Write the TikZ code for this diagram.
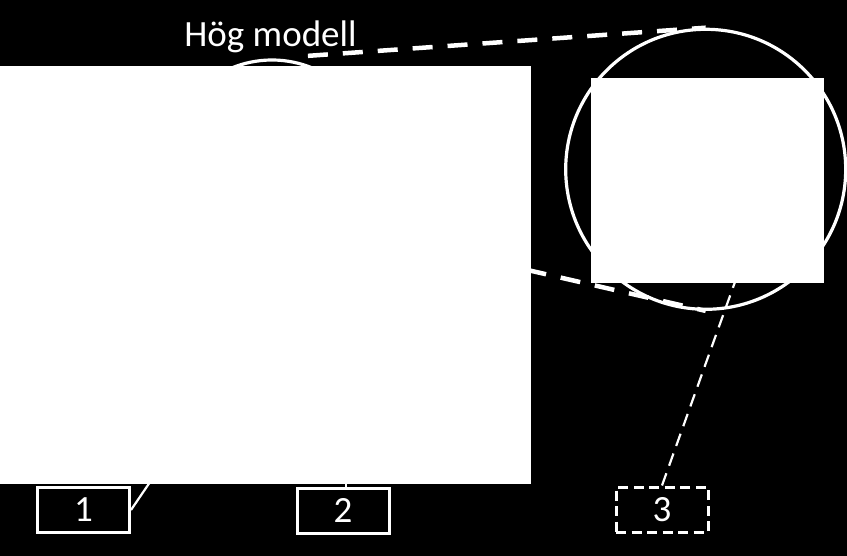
\documentclass[tikz,border=0pt]{standalone}
\usepackage{fontspec}
\setmainfont{Carlito}
\usetikzlibrary{calc}
\begin{document}
\begin{tikzpicture}[x=1pt,y=-1pt,
  ring/.style={circle,draw=white,line width=3.2pt,inner sep=0pt},
  zoomline/.style={draw=white,line width=4.5pt,dash pattern=on 20pt off 15pt},
  pointer/.style={draw=white,line width=2.2pt},
  photo/.style={fill=white,inner sep=0pt,anchor=north west},
  numbox/.style={draw=white,line width=3pt,minimum width=92pt,minimum height=45pt,inner sep=0pt,text=white,font=\fontsize{37}{44}\selectfont},
  label/.style={text=white,inner sep=0pt,font=\fontsize{37}{44}\selectfont}]
\fill[black] (0,0) rectangle (847,556);
\useasboundingbox (0,0) rectangle (847,556);
% circles
\node[ring,minimum size=210pt] (small) at (272,165) {};
\node[ring,minimum size=280pt] (big) at (705.7,169.3) {};
% hidden ends
\coordinate (p3end) at (740,268);
\coordinate (p1end) at (165,460);
\coordinate (p2end) at (346,470);
% boxes
\node[numbox] (box1) at (83.5,510) {1};
\node[numbox] (box2) at (343,510.5) {2};
\node[numbox,dash pattern=on 10pt off 5.5pt] (box3) at (662,509.5) {3};
% connectors
\draw[zoomline] ($(small.north)!36pt!(big.north)$) -- (big.north);
\draw[zoomline] (small.-38) -- (big.south);
\draw[pointer,dash pattern=on 13pt off 8pt] (box3.north) -- (p3end);
\draw[pointer] (box1.east) -- (p1end);
\draw[pointer] ([xshift=3pt]box2.north) -- (p2end);
% images
\node[photo,minimum width=531pt,minimum height=418pt] (photoL) at (0,66) {};
\node[photo,minimum width=233pt,minimum height=204.7pt] (photoR) at (591,78) {};
% title
\node[label,anchor=base] (title) at (270.5,46.5) {Hög modell};
\end{tikzpicture}
\end{document}
